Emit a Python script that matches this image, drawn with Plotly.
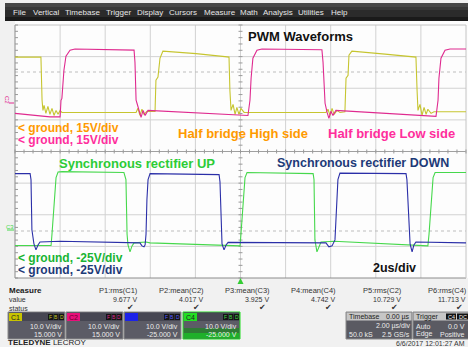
import plotly.graph_objects as go

W, H = 468, 347

# ---------------- data (time in us, 2 us/div; volts) ----------------
C1_T = [0, 1.15, 1.2, 1.24, 1.29, 1.37, 1.46, 1.55, 1.64, 1.73, 1.82, 1.91, 2.0, 2.08,
        5.37, 5.45, 5.54, 5.63, 5.72, 5.85, 6.21, 6.25, 6.34, 6.43, 6.56, 8.03, 9.31,
        9.49, 9.53, 9.58, 9.67, 9.76, 9.84, 9.93, 10.02, 10.16, 13.79, 13.88, 13.97,
        14.06, 14.15, 14.28, 14.41, 14.63, 14.68, 14.77, 14.81, 14.94, 16.41, 17.65,
        17.78, 17.83, 17.87, 17.96, 18.05, 18.14, 18.23, 18.31, 18.45, 18.58, 20.0]
C1_V = [34.7, 34.7, 7.4, 1.0, 4.2, -0.9, 3.6, -1.5, 2.3, -2.2, 1.0, -1.5, 1.0, -0.3,
        -0.3, 2.3, -2.2, 1.7, -1.5, 0.4, 0.4, 20.1, 22.0, 34.0, 38.5, 36.9, 35.0,
        34.7, 13.7, 1.0, 4.8, -1.5, 2.9, -1.5, 2.3, -0.3, -0.3, 1.7, -2.2,
        2.3, -1.5, 1.0, -0.3, 0.1, 21.3, 23.2, 35.9, 38.5, 36.6, 35.0,
        34.7, 13.7, 1.0, 4.8, -2.2, 2.9, -1.5, 1.7, -0.9, 0.1, 0.1]

C2_T = [0, 1.55, 2.0, 2.04, 2.08, 2.17, 2.26, 2.44, 2.66, 5.28, 5.32, 5.37, 5.41, 5.50,
        5.59, 5.68, 5.77, 5.90, 10.33, 10.42, 10.47, 10.55, 10.73, 10.95, 13.61, 13.66,
        13.75, 13.84, 13.92, 14.01, 14.10, 14.23, 18.67, 18.76, 18.80, 18.89, 19.07,
        19.29, 20.0]
C2_V = [-0.9, -3.1, -3.1, 7.4, 8.6, 26.4, 35.3, 39.1, 39.8, 39.1, 31.5, 7.4, 5.5, 1.0,
        -3.4, 1.0, -2.2, 1.0, -2.2, 7.4, 21.3, 34.0, 39.1, 39.8, 39.4, 31.5,
        5.5, -0.3, -4.1, 0.4, -2.2, 1.0, -2.8, 7.4, 21.3, 34.0, 39.1,
        39.8, 39.8]

C3_T = [0, 0.67, 0.71, 0.75, 0.84, 0.93, 1.02, 1.11, 2.0, 5.54, 5.63, 5.72, 5.77, 5.81,
        5.85, 5.90, 5.99, 8.20, 9.05, 9.09, 9.14, 9.18, 9.27, 9.36, 9.45, 13.79, 13.92,
        14.06, 14.19, 14.24, 14.32, 14.41, 17.34, 17.38, 17.47, 17.52, 17.61, 17.69,
        17.78, 20.0]
C3_V = [-1.0, -1.0, 2.8, 34.5, 43.4, 47.2, 44.1, 42.2, 41.8, 42.8, 44.7, 45.3, 44.1, 37.3,
        15.5, 2.8, -1.0, -0.7, -0.4, 4.1, 35.8, 43.4, 47.2, 44.1, 42.5, 42.8, 45.3,
        44.7, 40.9, 21.8, 2.8, -1.3, -1.0, 2.8, 35.8, 43.4, 48.5, 44.1,
        42.2, 42.8]

C4_T = [0, 1.60, 1.64, 1.73, 1.82, 1.91, 2.08, 4.83, 4.92, 4.97, 5.01, 5.10, 5.19, 5.28,
        5.81, 5.99, 9.93, 9.98, 10.02, 10.11, 10.20, 10.29, 13.22, 13.26, 13.30, 13.39,
        13.48, 13.57, 14.15, 18.23, 18.31, 18.36, 18.45, 18.54, 18.63, 20.0]
C4_V = [44.4, 44.4, 37.3, 15.5, 1.5, -2.0, -2.3, -1.7, 2.8, 37.3, 44.1, 48.5, 44.7, 42.8,
        42.2, 42.8, 44.7, 44.7, 37.3, 15.5, 1.5, -1.7, -1.0, 2.8, 40.9, 48.5,
        44.7, 42.2, 41.8, 44.7, 44.7, 37.3, 15.5, 1.5, -1.7, -1.7]

TIME_RANGE = [0, 20]          # 10 div x 2 us
UPPER_RANGE = [-25, 55]       # C1/C2: 10 V/div, offset +15 V
LOWER_RANGE = [65, -15]       # C3/C4: inverted display, offset -25 V

MENU_ITEMS = ["File", "Vertical", "Timebase", "Trigger", "Display", "Cursors",
              "Measure", "Math", "Analysis", "Utilities", "Help"]
MEAS_LABELS = ["P1:rms(C1)", "P2:mean(C2)", "P3:mean(C3)", "P4:mean(C4)",
               "P5:rms(C2)", "P6:rms(C4)"]
MEAS_VALUES = ["9.677 V", "4.017 V", "3.925 V", "4.742 V", "10.729 V", "11.713 V"]
CH_LABELS = ["C1", "C2", "C3", "C4"]
CH_SCALE = ["10.0 V/div", "10.0 V/div", "10.0 V/div", "10.0 V/div"]
CH_OFFSET = ["15.000 V", "15.000 V", "-25.000 V", "-25.000 V"]

# ---------------- styles / geometry ----------------
COL = {"C1": "#c6c530", "C2": "#df2a8f", "C3": "#2b2fa8", "C4": "#46d84c"}
TAG = {"C1": "#c8c400", "C2": "#e8107a", "C3": "#1c22e8", "C4": "#22e022"}
FONT = "Liberation Sans, Arial, sans-serif"
MENU_X = [12, 32, 64, 105, 136, 168, 203, 239, 262, 297, 330]
MEAS_RIGHT = [139, 205, 271, 337, 403, 468]
CH_BOX_X = [8, 66, 124, 183]
GX0, GX1 = 15, 466
GY0, GMID, GY1 = 25, 151.5, 278


def px(x):
    return x / W


def py(y):
    return 1 - y / H


shapes = []
annos = []


def rect(x0, y0, x1, y1, fill, line=None, lw=0, layer="below"):
    shapes.append(dict(type="rect", xref="paper", yref="paper",
                       x0=px(x0), x1=px(x1), y0=py(y1), y1=py(y0),
                       fillcolor=fill, layer=layer,
                       line=dict(color=line or fill, width=lw)))


def hline(y, x0, x1, color, w=1, dash="solid", layer="below"):
    shapes.append(dict(type="line", xref="paper", yref="paper",
                       x0=px(x0), x1=px(x1), y0=py(y), y1=py(y), layer=layer,
                       line=dict(color=color, width=w, dash=dash)))


def vline(x, y0, y1, color, w=1, dash="solid", layer="below"):
    shapes.append(dict(type="line", xref="paper", yref="paper",
                       x0=px(x), x1=px(x), y0=py(y0), y1=py(y1), layer=layer,
                       line=dict(color=color, width=w, dash=dash)))


def txt(s, x, y, size, color, anchor="left", family=FONT, angle=0):
    annos.append(dict(text=s, x=px(x), y=py(y), xref="paper", yref="paper",
                      xanchor=anchor, yanchor="middle", showarrow=False,
                      textangle=angle, borderpad=0,
                      font=dict(size=size, color=color, family=family)))


# menu bar
rect(5, 3, 468, 21, "#2b2b2b")
rect(5, 3, 468, 7, "#474747")
rect(5, 7, 468, 10, "#383838")
rect(5, 17, 468, 21, "#1a1a1a")
for name, x in zip(MENU_ITEMS, MENU_X):
    txt(name, x, 12.5, 8, "#e6e6e6")

# grid area
rect(GX0, 21, GX1 + 2, GY1, "#fdfdfd")
gstep = (GX1 - GX0) / 10
for k in range(1, 10):
    vline(GX0 + k * gstep, GY0, GY1, "#d2d2d2")
dy = (GMID - GY0) / 4
for k in (1, 2, 3):
    hline(GY0 + k * dy, GX0, GX1, "#d2d2d2")
    hline(GMID + k * dy, GX0, GX1, "#d2d2d2")
hline(72, GX0, GX1, "#bdbdbd", dash="dot")
hline(231, GX0, GX1, "#bdbdbd", dash="dot")
hline(GY0, GX0, GX1, "#c4c4c4")
hline(GMID, GX0, GX1, "#a0a0a0")
hline(GY1, GX0, GX1, "#8c8c8c")
vline(GX1, GY0, GY1, "#c4c4c4")
vline(GX0, GY0, GY1, "#8a8a8a")

# minor ticks
p = ""
tx = GX0
while tx <= GX1 + 0.1:
    p += f"M{px(tx):.5f},{py(GMID - 2):.5f}L{px(tx):.5f},{py(GMID + 2):.5f}"
    tx += gstep / 5
ty = GY0
cx = GX0 + 5 * gstep
while ty <= GY1 + 0.1:
    p += f"M{px(cx - 2):.5f},{py(ty):.5f}L{px(cx + 2):.5f},{py(ty):.5f}"
    p += f"M{px(GX0):.5f},{py(ty):.5f}L{px(GX0 + 3):.5f},{py(ty):.5f}"
    ty += dy / 5
shapes.append(dict(type="path", xref="paper", yref="paper", path=p, layer="below",
                   line=dict(color="#999999", width=1)))

# trigger marker
tri = f"M{px(cx - 3)},{py(284)}L{px(cx + 3)},{py(284)}L{px(cx)},{py(278)}Z"
shapes.append(dict(type="path", xref="paper", yref="paper", path=tri, layer="above",
                   fillcolor="#33cc33", line=dict(color="#33cc33", width=0)))

# channel markers on the left
txt("C2", 7, 100, 6, COL["C2"], anchor="center", angle=90)
hline(103, 9, 14, COL["C2"])
txt("C3", 10, 227, 6, COL["C4"], anchor="center")
hline(230, 7, 14, COL["C4"])

# measurement table
txt("<b>Measure</b>", 8, 290, 8, "#1a1a1a")
txt("value", 8, 299, 7, "#333333")
txt("status", 8, 308, 7, "#333333")
for lab, val, xr in zip(MEAS_LABELS, MEAS_VALUES, MEAS_RIGHT):
    txt(lab, xr, 290, 7.5, "#333333", anchor="right")
    txt(val, xr - 1, 299, 7, "#333333", anchor="right")
    txt("\u2714", xr - 4, 307.5, 8, "#333333", anchor="right",
        family="DejaVu Sans, sans-serif")

# channel boxes
for name, sc, off, x0 in zip(CH_LABELS, CH_SCALE, CH_OFFSET, CH_BOX_X):
    x1 = x0 + 57
    border = "#22dd22" if name == "C4" else "#8a8a8a"
    rect(x0, 312, x1, 339, "#5c5c66", border, 1, layer="above")
    rect(x0 + 1, 312.5, x1 - 1, 321, "#464652", layer="above")
    if name == "C4":
        rect(x0 + 1, 328, x1 - 1, 333, "#2f7a35", layer="above")
        rect(x0 + 1, 333, x1 - 1, 338.5, "#1fb02a", layer="above")
    rect(x0 + 1, 313, x0 + 14, 321, TAG[name], layer="above")
    if name != "C3":
        txt(name, x0 + 2, 317, 7, "#222222" if name != "C2" else "#6a0030")
    for j, ch in enumerate(["F", "B", "D"]):
        cx0 = x1 - 17 + j * 5.5
        rect(cx0, 314, cx0 + 5, 320, "#141414", layer="above")
        txt(ch, cx0 + 2.5, 317, 5, COL[name] if name != "C3" else "#5a5aff",
            anchor="center")
    txt(sc, x1 - 2, 326, 7, "#ececec", anchor="right")
    txt(off, x1 - 2, 334, 7, "#ececec", anchor="right")

# timebase box
rect(346, 312, 412, 339, "#5a5a62", "#8a8a8a", 1, layer="above")
rect(346.5, 312.5, 411.5, 320.5, "#c6c6c6", layer="above")
txt("Timebase", 348, 316.5, 7, "#222222")
txt("0.00 \u00b5s", 411, 316.5, 7, "#222222", anchor="right")
txt("2.00 \u00b5s/div", 411, 326, 7, "#ececec", anchor="right")
txt("50.0 kS", 348, 334, 7, "#ececec")
txt("2.5 GS/s", 411, 334, 7, "#ececec", anchor="right")

# trigger box
rect(413, 312, 470, 339, "#5a5a62", "#8a8a8a", 1, layer="above")
rect(413.5, 312.5, 470, 320.5, "#c6c6c6", layer="above")
txt("Trigger", 415, 316.5, 7, "#222222")
rect(446, 313.5, 456, 319.5, "#111111", layer="above")
rect(457, 313.5, 468, 319.5, "#111111", layer="above")
txt("C4", 451, 316.5, 5.5, "#eeeeee", anchor="center")
txt("DC", 462.5, 316.5, 5.5, "#eeeeee", anchor="center")
txt("Auto", 415, 326, 7, "#ececec")
txt("0.0 V", 466, 326, 7, "#ececec", anchor="right")
txt("Edge", 415, 334, 7, "#ececec")
txt("Positive", 466, 334, 7, "#ececec", anchor="right")

txt("<b>TELEDYNE</b> LECROY", 7, 342, 8, "#222222")
txt("6/6/2017 12:01:27 AM", 466, 343, 7, "#333333", anchor="right")

# overlay labels
BIG = 13
txt("<b>PWM Waveforms</b>", 247, 37, BIG, "#111111")
txt("<b>< ground, 15V/div</b>", 17, 128, 12, "#ff9a00")
txt("<b>< ground, 15V/div</b>", 17, 140, 12, "#ff2e9c")
txt("<b>Half bridge High side</b>", 177, 133, BIG, "#ff9a00")
txt("<b>Half bridge Low side</b>", 327, 133, BIG, "#ff2e9c")
txt("<b>Synchronous rectifier UP</b>", 58, 163, BIG, "#2ccc36")
txt("<b>Synchronous rectifier DOWN</b>", 276, 163, 12.5, "#1d3a78")
txt("<b>< ground, -25V/div</b>", 17, 258, 12, "#18b432")
txt("<b>< ground, -25V/div</b>", 17, 269.5, 12, "#1d3a78")
txt("<b>2us/div</b>", 372, 268, 12.5, "#111111")

# ---------------- figure ----------------
fig = go.Figure()
for t, v, name, ax in [(C1_T, C1_V, "C1", 2), (C2_T, C2_V, "C2", 2),
                       (C4_T, C4_V, "C4", 3), (C3_T, C3_V, "C3", 3)]:
    fig.add_trace(go.Scatter(x=t, y=v, mode="lines", name=name,
                             xaxis=f"x{ax}", yaxis=f"y{ax}",
                             line=dict(color=COL[name], width=1.1),
                             hoverinfo="skip", showlegend=False))

ax_common = dict(visible=False, fixedrange=True, showgrid=False, zeroline=False)
fig.update_layout(
    width=W, height=H, margin=dict(l=0, r=0, t=0, b=0),
    paper_bgcolor="#f1f1f1", plot_bgcolor="rgba(0,0,0,0)",
    xaxis2=dict(range=TIME_RANGE, domain=[px(GX0), px(GX1)], anchor="y2", **ax_common),
    yaxis2=dict(range=UPPER_RANGE, domain=[py(GMID), py(GY0)], anchor="x2", **ax_common),
    xaxis3=dict(range=TIME_RANGE, domain=[px(GX0), px(GX1)], anchor="y3", **ax_common),
    yaxis3=dict(range=LOWER_RANGE, domain=[py(GY1), py(GMID)], anchor="x3", **ax_common),
    shapes=shapes, annotations=annos, showlegend=False,
)
fig.write_html("out.html", config={"displayModeBar": False, "staticPlot": True},
               post_script="document.body.style.margin='0';document.body.style.overflow='hidden';")
